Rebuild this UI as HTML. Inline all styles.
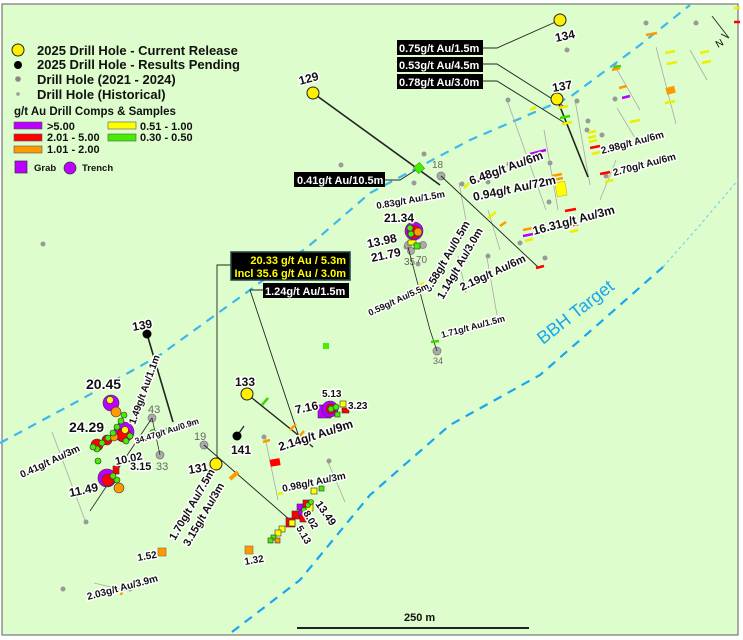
<!DOCTYPE html>
<html><head><meta charset="utf-8"><style>
html,body{margin:0;padding:0;background:#fff;width:743px;height:640px;overflow:hidden}
svg{display:block}
text{font-family:"Liberation Sans",sans-serif;font-weight:bold}
.h{paint-order:stroke;stroke:#fff;stroke-width:3px;stroke-linejoin:round;fill:#111}
.g{fill:#666;font-weight:normal}
.lg{fill:#111}
</style></head><body>
<svg width="743" height="640" viewBox="0 0 743 640" xmlns="http://www.w3.org/2000/svg">
<rect x="2" y="4" width="736" height="631" fill="#ddfdcc" stroke="#777" stroke-width="1.2"/>
<!-- dashed structures -->
<polyline points="0,443 80,400 160,355 250,290 310,245 370,193 470,140 570,97 640,45 690,5" fill="none" stroke="#3cb8ee" stroke-width="2.2" stroke-dasharray="9,7"/>
<polyline points="232,632 300,580 370,495 450,425 540,375 603,320 663,267" fill="none" stroke="#1aa6ee" stroke-width="2.2" stroke-dasharray="9,7"/>
<polyline points="663,267 700,225 738,180" fill="none" stroke="#7fd0f0" stroke-width="1.2" stroke-dasharray="3,3"/>
<text x="0" y="0" transform="translate(543,345) rotate(-38)" font-size="18" fill="#1aa6ee" style="font-weight:normal">BBH Target</text>

<!-- legend -->
<circle cx="18" cy="50" r="6" fill="#ffef00" stroke="#222"/>
<text x="37" y="55" font-size="13" class="lg">2025 Drill Hole - Current Release</text>
<circle cx="18" cy="65" r="4" fill="#000"/>
<text x="37" y="69" font-size="13" class="lg">2025 Drill Hole - Results Pending</text>
<circle cx="18" cy="79" r="2.8" fill="#888"/>
<text x="37" y="84" font-size="13" class="lg">Drill Hole (2021 - 2024)</text>
<circle cx="18" cy="94" r="1.8" fill="#999"/>
<text x="37" y="99" font-size="13" class="lg">Drill Hole (Historical)</text>
<text x="14" y="115" font-size="11.5" class="lg">g/t Au Drill Comps &amp; Samples</text>
<rect x="14" y="122" width="28" height="7" fill="#bb00ff" stroke="#555" stroke-width=".6"/><text x="47" y="130" font-size="11" class="lg">&gt;5.00</text>
<rect x="14" y="134" width="28" height="7" fill="#ff0000" stroke="#555" stroke-width=".6"/><text x="47" y="141" font-size="11" class="lg">2.01 - 5.00</text>
<rect x="14" y="146" width="28" height="7" fill="#ff9900" stroke="#555" stroke-width=".6"/><text x="47" y="153" font-size="11" class="lg">1.01 - 2.00</text>
<rect x="108" y="122" width="28" height="7" fill="#ffff00" stroke="#555" stroke-width=".6"/><text x="140" y="130" font-size="11" class="lg">0.51 - 1.00</text>
<rect x="108" y="134" width="28" height="7" fill="#44ee00" stroke="#555" stroke-width=".6"/><text x="140" y="141" font-size="11" class="lg">0.30 - 0.50</text>
<rect x="15" y="161" width="12" height="12" fill="#bb00ff" stroke="#333" stroke-width=".7"/><text x="34" y="171" font-size="9.5" class="lg">Grab</text>
<circle cx="70" cy="168" r="6" fill="#bb00ff" stroke="#333" stroke-width=".7"/><text x="82" y="171" font-size="9.5" class="lg">Trench</text>

<!-- faint historical traces -->
<g stroke="#aaa" stroke-width="0.8" fill="none">
<line x1="52" y1="432" x2="86" y2="523"/><line x1="507" y1="100" x2="546" y2="210"/><line x1="575" y1="100" x2="590" y2="185"/>
<line x1="616" y1="68" x2="640" y2="110"/><line x1="656" y1="47" x2="676" y2="124"/><line x1="690" y1="50" x2="707" y2="80"/>
<line x1="617" y1="108" x2="638" y2="143"/><line x1="616" y1="160" x2="600" y2="200"/><line x1="458" y1="256" x2="466" y2="293"/>
<line x1="488" y1="210" x2="500" y2="250"/><line x1="487" y1="258" x2="497" y2="315"/><line x1="265" y1="437" x2="278" y2="500"/>
<line x1="328" y1="462" x2="345" y2="502"/><line x1="94" y1="583" x2="128" y2="591"/><line x1="459" y1="183" x2="466" y2="220"/>
<line x1="544" y1="130" x2="558" y2="210"/>
</g>
<!-- gray dots -->
<g fill="#999">
<circle cx="43" cy="244" r="2.5"/><circle cx="341" cy="165" r="2.5"/><circle cx="567" cy="50" r="2.5"/><circle cx="646" cy="23" r="2.5"/><circle cx="696" cy="23" r="2.5"/>
<circle cx="615" cy="99" r="2.5"/><circle cx="616" cy="67" r="2.5"/><circle cx="577" cy="101" r="2.5"/><circle cx="588" cy="121" r="2.5"/>
<circle cx="587" cy="130" r="2.5"/><circle cx="508" cy="100" r="2.5"/><circle cx="509" cy="164" r="2.5"/><circle cx="550" cy="163" r="2.5"/><circle cx="549" cy="202" r="2.5"/>
<circle cx="424" cy="154" r="2.5"/><circle cx="414" cy="183" r="2.5"/><circle cx="462" cy="184" r="2.5"/><circle cx="520" cy="243" r="2.5"/>
<circle cx="545" cy="258" r="2.5"/><circle cx="488" cy="256" r="2.5"/><circle cx="418" cy="264" r="2.5"/><circle cx="488" cy="182" r="2.5"/>
<circle cx="86" cy="522" r="2.5"/><circle cx="63" cy="589" r="2.5"/><circle cx="130" cy="589" r="2.5"/><circle cx="264" cy="437" r="2.5"/>
<circle cx="329" cy="461" r="2.5"/><circle cx="95" cy="381" r="2.5"/><circle cx="406" cy="247" r="2.5"/><circle cx="602" cy="135" r="2.5"/><circle cx="606" cy="176" r="2.5"/>
</g>
<g fill="#aaa" stroke="#777" stroke-width=".7">
<circle cx="152" cy="418" r="4"/><circle cx="160" cy="455" r="4"/><circle cx="204" cy="445" r="4"/><circle cx="437" cy="351" r="4"/>
<circle cx="408" cy="245" r="3.5"/><circle cx="423" cy="245" r="3.5"/><circle cx="411" cy="251" r="3.5"/><circle cx="441" cy="176" r="4"/>
</g>
<text x="148" y="413" font-size="11" class="g">43</text><text x="156" y="470" font-size="11" class="g">33</text>
<text x="194" y="440" font-size="11" class="g">19</text><text x="433" y="364" font-size="9" class="g">34</text>
<text x="432" y="168" font-size="10" class="g">18</text><text x="404" y="265" font-size="10" class="g">35</text><text x="416" y="263" font-size="10" class="g">70</text>

<!-- drill traces -->
<g stroke="#222" fill="none">
<line x1="313" y1="93" x2="440" y2="185" stroke-width="1.6"/>
<line x1="557" y1="99" x2="588" y2="177" stroke-width="1.6"/>
<line x1="147" y1="334" x2="173" y2="422" stroke-width="1.6"/>
<line x1="247" y1="394" x2="313" y2="447" stroke-width="1.3"/>
<line x1="237" y1="436" x2="244" y2="426" stroke-width="1.3"/>
<line x1="441" y1="176" x2="538" y2="267" stroke-width="0.9"/>
<line x1="204" y1="445" x2="290" y2="520" stroke-width="0.9"/>
<line x1="152" y1="418" x2="90" y2="511" stroke-width="0.8"/>
<line x1="408" y1="247" x2="430" y2="330" stroke-width="0.8"/>
<line x1="430" y1="330" x2="437" y2="351" stroke-width="0.8"/>
<line x1="152" y1="418" x2="160" y2="455" stroke-width="0.7"/>
<!-- leaders -->
<polyline points="384,180 400,180 419,168" stroke-width=".9"/>
<polyline points="482,48 497,48 560,20" stroke-width=".9"/>
<polyline points="482,64 497,64 565,107" stroke-width=".9"/>
<polyline points="482,81 497,81 565,123" stroke-width=".9"/>
<polyline points="231,265 217,265 217,460" stroke-width=".9"/>
<polyline points="263,290 250,290 300,440" stroke-width=".9"/>
</g>

<!-- collars -->
<circle cx="313" cy="93" r="6" fill="#ffef00" stroke="#222"/>
<circle cx="560" cy="20" r="6" fill="#ffef00" stroke="#222"/>
<circle cx="557" cy="99" r="6" fill="#ffef00" stroke="#222"/>
<circle cx="247" cy="394" r="6" fill="#ffef00" stroke="#222"/>
<circle cx="216" cy="464" r="6" fill="#ffef00" stroke="#222"/>
<circle cx="147" cy="334" r="4.5" fill="#000"/>
<circle cx="237" cy="436" r="4.5" fill="#000"/>

<!-- intercept ticks -->
<g stroke-width="2.5">
<line x1="558" y1="108" x2="568" y2="106" stroke="#ee0"/><line x1="560" y1="118" x2="570" y2="116" stroke="#3d0"/><line x1="562" y1="124" x2="572" y2="122" stroke="#ee0"/>
<line x1="530" y1="154" x2="546" y2="150" stroke="#b0f"/><line x1="552" y1="176" x2="562" y2="174" stroke="#f90"/><line x1="553" y1="180" x2="563" y2="178" stroke="#f90"/>
<line x1="565" y1="211" x2="576" y2="209" stroke="#f00"/><line x1="568" y1="226" x2="578" y2="224" stroke="#f00"/><line x1="570" y1="232" x2="578" y2="230" stroke="#ee0"/>
<line x1="523" y1="230" x2="533" y2="228" stroke="#f90"/><line x1="523" y1="236" x2="533" y2="234" stroke="#b0f"/><line x1="525" y1="241" x2="533" y2="239" stroke="#ee0"/>
<line x1="588" y1="133" x2="596" y2="131" stroke="#ee0"/><line x1="588" y1="138" x2="596" y2="136" stroke="#ee0"/><line x1="589" y1="142" x2="597" y2="140" stroke="#ee0"/>
<line x1="590" y1="148" x2="600" y2="146" stroke="#f00"/><line x1="592" y1="154" x2="600" y2="152" stroke="#ee0"/><line x1="600" y1="174" x2="610" y2="172" stroke="#f00"/><line x1="605" y1="182" x2="613" y2="180" stroke="#ee0"/>
<line x1="613" y1="68" x2="621" y2="66" stroke="#3d0"/><line x1="646" y1="35" x2="657" y2="33" stroke="#f90"/><line x1="612" y1="70" x2="620" y2="68" stroke="#f90"/>
<line x1="619" y1="88" x2="627" y2="86" stroke="#f90"/><line x1="622" y1="98" x2="630" y2="96" stroke="#b0f"/><line x1="630" y1="122" x2="640" y2="120" stroke="#ee0"/>
<line x1="665" y1="53" x2="675" y2="51" stroke="#ee0"/><line x1="667" y1="64" x2="677" y2="62" stroke="#ee0"/><line x1="665" y1="103" x2="675" y2="101" stroke="#ee0"/>
<line x1="700" y1="53" x2="709" y2="51" stroke="#ee0"/><line x1="702" y1="63" x2="711" y2="61" stroke="#ee0"/><line x1="734" y1="22" x2="740" y2="22" stroke="#f00"/><line x1="734" y1="8" x2="740" y2="8" stroke="#ee0"/>
<line x1="530" y1="110" x2="536" y2="107" stroke="#ee0"/><line x1="464" y1="188" x2="472" y2="180" stroke="#ee0"/><line x1="488" y1="218" x2="496" y2="212" stroke="#ee0"/>
<line x1="500" y1="226" x2="506" y2="222" stroke="#f90"/><line x1="536" y1="268" x2="544" y2="266" stroke="#f00"/><line x1="418" y1="286" x2="424" y2="283" stroke="#ee0"/>
<line x1="431" y1="342" x2="439" y2="341" stroke="#3d0"/><line x1="163" y1="432" x2="168" y2="428" stroke="#3d0"/><line x1="123" y1="587" x2="121" y2="595" stroke="#f90"/>
<line x1="262" y1="405" x2="268" y2="398" stroke="#3d0"/><line x1="290" y1="430" x2="296" y2="424" stroke="#f90"/><line x1="299" y1="437" x2="304" y2="431" stroke="#f90"/>
<line x1="230" y1="479" x2="238" y2="472" stroke="#f90" stroke-width="4"/><line x1="263" y1="442" x2="270" y2="440" stroke="#f90"/><line x1="278" y1="494" x2="283" y2="493" stroke="#ee0"/>
</g>
<rect x="556" y="182" width="10" height="14" fill="#ff0" stroke="#aa0" stroke-width=".5" transform="rotate(-10 561 189)"/>
<rect x="666" y="87" width="9" height="7" fill="#f90" transform="rotate(-15 670 90)"/>
<rect x="415" y="164" width="8" height="8" fill="#44ee00" stroke="#393" stroke-width=".6" transform="rotate(-40 419 168)"/>
<rect x="323" y="343" width="6" height="6" fill="#44ee00"/>
<rect x="270" y="459" width="10" height="7" fill="#f00" transform="rotate(-10 275 462)"/>
<rect x="158" y="548" width="8" height="8" fill="#f90" stroke="#864" stroke-width=".6"/>
<rect x="245" y="546" width="8" height="8" fill="#f90" stroke="#864" stroke-width=".6"/>

<!-- trench clusters left -->
<g stroke="#333" stroke-width=".6">
<circle cx="111" cy="403" r="8" fill="#bb00ff"/><circle cx="110" cy="400" r="3.5" fill="#ff0"/><circle cx="116" cy="412" r="5" fill="#f90"/>
<circle cx="124" cy="432" r="10" fill="#bb00ff"/><circle cx="124" cy="435" r="7" fill="#f00"/><circle cx="125" cy="430" r="3.5" fill="#ff0"/>
<circle cx="97" cy="445" r="6" fill="#f00"/><circle cx="107" cy="440" r="5" fill="#f00"/><circle cx="114" cy="437" r="4" fill="#f90"/>
<circle cx="107" cy="478" r="9" fill="#bb00ff"/><circle cx="108" cy="480" r="6" fill="#f00"/><circle cx="119" cy="488" r="5" fill="#f90"/><rect x="113" y="466" width="6" height="8" fill="#f00"/>
<circle cx="117" cy="480" r="3" fill="#44ee00"/><circle cx="113" cy="476" r="3" fill="#44ee00"/>
<circle cx="97" cy="449" r="3" fill="#44ee00"/><circle cx="93" cy="447" r="3" fill="#44ee00"/><circle cx="102" cy="443" r="3" fill="#44ee00"/><circle cx="108" cy="438" r="3" fill="#44ee00"/>
<circle cx="113" cy="433" r="3" fill="#44ee00"/><circle cx="117" cy="427" r="3" fill="#44ee00"/><circle cx="121" cy="421" r="3" fill="#44ee00"/><circle cx="124" cy="415" r="3" fill="#44ee00"/>
<circle cx="126" cy="441" r="3" fill="#44ee00"/><circle cx="130" cy="436" r="3" fill="#44ee00"/><circle cx="98" cy="461" r="3" fill="#44ee00"/><circle cx="153" cy="433" r="3.5" fill="#44ee00"/>
<!-- trench 21.34 -->
<circle cx="414" cy="231" r="9" fill="#bb00ff"/><circle cx="414" cy="232" r="6.5" fill="#f00"/><circle cx="418" cy="232" r="4" fill="#f90"/><circle cx="410" cy="228" r="3" fill="#44ee00"/><circle cx="411" cy="234" r="3" fill="#44ee00"/>
<rect x="408" y="240" width="8" height="5" fill="#ff0"/><rect x="414" y="243" width="6" height="6" fill="#44ee00"/>
<!-- trench 7.16 -->
<rect x="318" y="405" width="13" height="13" fill="#bb00ff"/><circle cx="330" cy="409" r="8" fill="#bb00ff"/><circle cx="331" cy="409" r="5" fill="#f00"/><circle cx="331" cy="409" r="3" fill="#44ee00"/><circle cx="336" cy="407" r="3" fill="#44ee00"/>
<rect x="340" y="401" width="6" height="6" fill="#ff0"/><rect x="342" y="408" width="7" height="5" fill="#f00"/><rect x="335" y="412" width="5" height="5" fill="#44ee00"/>
<!-- grab cluster 13.49 -->
<rect x="311" y="488" width="6" height="6" fill="#ff0"/><rect x="319" y="486" width="5" height="5" fill="#44ee00"/>
<rect x="297" y="504" width="6" height="6" fill="#bb00ff"/><rect x="303" y="500" width="8" height="8" fill="#f00"/><rect x="306" y="504" width="7" height="7" fill="#ff0"/>
<rect x="292" y="511" width="8" height="8" fill="#f00"/><rect x="299" y="510" width="7" height="7" fill="#bb00ff"/><rect x="300" y="515" width="7" height="7" fill="#f00"/>
<rect x="286" y="518" width="9" height="9" fill="#f00"/><rect x="289" y="520" width="6" height="6" fill="#ff0"/><rect x="279" y="526" width="6" height="6" fill="#ff0"/>
<rect x="275" y="530" width="6" height="6" fill="#ff0"/><rect x="271" y="535" width="5" height="5" fill="#44ee00"/><rect x="275" y="538" width="5" height="5" fill="#f90"/><rect x="268" y="538" width="5" height="5" fill="#44ee00"/>
<circle cx="308" cy="505" r="2.5" fill="#44ee00"/><circle cx="304" cy="510" r="2.5" fill="#44ee00"/><circle cx="311" cy="502" r="2.5" fill="#44ee00"/>
</g>

<!-- black labels -->
<g font-size="11">
<rect x="294" y="172" width="91" height="15" fill="#000"/><text x="297" y="184" fill="#fff">0.41g/t Au/10.5m</text>
<rect x="397" y="40" width="86" height="15" fill="#000"/><text x="399" y="52" fill="#fff">0.75g/t Au/1.5m</text>
<rect x="397" y="57" width="86" height="15" fill="#000"/><text x="399" y="69" fill="#fff">0.53g/t Au/4.5m</text>
<rect x="397" y="74" width="86" height="15" fill="#000"/><text x="399" y="86" fill="#fff">0.78g/t Au/3.0m</text>
<rect x="231" y="252" width="119" height="28" fill="#000" stroke="#244" stroke-width="1.5"/>
<text x="346" y="264" fill="#ff0" text-anchor="end">20.33 g/t Au / 5.3m</text><text x="346" y="277" fill="#ff0" text-anchor="end">Incl 35.6 g/t Au / 3.0m</text>
<rect x="263" y="283" width="86" height="15" fill="#000"/><text x="265" y="295" fill="#fff">1.24g/t Au/1.5m</text>
</g>

<!-- haloed labels -->
<g class="h">
<text font-size="12" transform="translate(300,85) rotate(-15)">129</text>
<text font-size="12" transform="translate(556,42) rotate(-12)">134</text>
<text font-size="12" transform="translate(553,92) rotate(-10)">137</text>
<text font-size="12" transform="translate(133,331) rotate(-10)">139</text>
<text font-size="12" x="235" y="386">133</text>
<text font-size="12" x="231" y="454">141</text>
<text font-size="12" transform="translate(189,474) rotate(-10)">131</text>
<text font-size="14" x="86" y="389">20.45</text>
<text font-size="14" x="69" y="432">24.29</text>
<text font-size="12" transform="translate(70,497) rotate(-12)">11.49</text>
<text font-size="11" transform="translate(55,409) rotate(0)" x="0" y="0"></text>
<text font-size="11" transform="translate(116,465) rotate(-12)">10.02</text>
<text font-size="11" x="130" y="470">3.15</text>
<text font-size="10" transform="translate(22,478) rotate(-25)">0.41g/t Au/3m</text>
<text font-size="10" transform="translate(135,425) rotate(-70)">1.49g/t Au/1.1m</text>
<text font-size="8.5" transform="translate(136,444) rotate(-18)">34.47g/t Au/0.9m</text>
<text font-size="12" transform="translate(296,414) rotate(-12)">7.16</text>
<text font-size="10" x="322" y="397">5.13</text>
<text font-size="10" x="348" y="409">3.23</text>
<text font-size="12" transform="translate(280,451) rotate(-18)">2.14g/t Au/9m</text>
<text font-size="10" transform="translate(283,492) rotate(-12)">0.98g/t Au/3m</text>
<text font-size="11" transform="translate(175,541) rotate(-60)">1.70g/t Au/7.5m</text>
<text font-size="11" transform="translate(189,547) rotate(-60)">3.15g/t Au/3m</text>
<text font-size="11" transform="translate(315,504) rotate(55)">13.49</text>
<text font-size="10" transform="translate(303,513) rotate(60)">8.02</text>
<text font-size="10" transform="translate(296,528) rotate(60)">5.13</text>
<text font-size="10" transform="translate(138,561) rotate(-10)">1.52</text>
<text font-size="10" transform="translate(245,565) rotate(-10)">1.32</text>
<text font-size="10" transform="translate(88,600) rotate(-15)">2.03g/t Au/3.9m</text>
<text font-size="12" x="384" y="222">21.34</text>
<text font-size="12" transform="translate(368,248) rotate(-12)">13.98</text>
<text font-size="12" transform="translate(372,262) rotate(-12)">21.79</text>
<text font-size="9.5" transform="translate(377,209) rotate(-10)">0.83g/t Au/1.5m</text>
<text font-size="12" transform="translate(471,185) rotate(-20)">6.48g/t Au/6m</text>
<text font-size="12" transform="translate(474,201) rotate(-12)">0.94g/t Au/72m</text>
<text font-size="12" transform="translate(534,235) rotate(-15)">16.31g/t Au/3m</text>
<text font-size="10" transform="translate(602,154) rotate(-15)">2.98g/t Au/6m</text>
<text font-size="10" transform="translate(614,176) rotate(-15)">2.70g/t Au/6m</text>
<text font-size="11" transform="translate(430,293) rotate(-60)">0.58g/t Au/0.5m</text>
<text font-size="11" transform="translate(443,300) rotate(-60)">1.14g/t Au/3.0m</text>
<text font-size="11" transform="translate(462,291) rotate(-25)">2.19g/t Au/6m</text>
<text font-size="9" transform="translate(370,316) rotate(-25)">0.59g/t Au/5.5m</text>
<text font-size="9" transform="translate(442,338) rotate(-15)">1.71g/t Au/1.5m</text>
</g>

<!-- north arrow -->
<g stroke="#333" fill="none" stroke-width="1"><polyline points="712,16 729,38 721,34"/></g>
<text font-size="10" transform="translate(718,48) rotate(-30)" style="font-weight:normal">N</text>

<!-- scale bar -->
<line x1="297" y1="628" x2="529" y2="628" stroke="#222" stroke-width="2"/>
<text x="404" y="621" font-size="11" class="lg">250  m</text>
</svg>
</body></html>
